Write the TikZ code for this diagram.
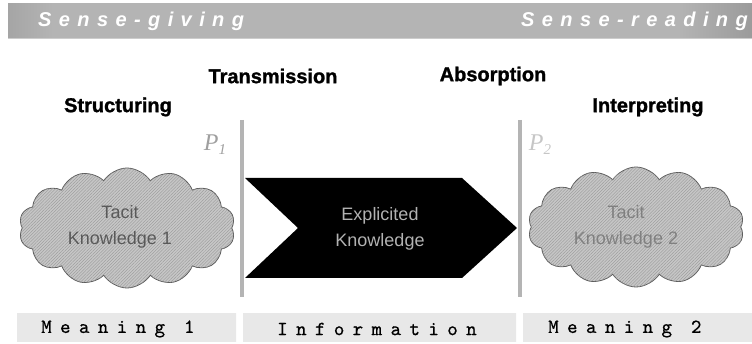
\documentclass[tikz,border=0pt]{standalone}
\usepackage{fontspec}
\setmainfont{Liberation Sans}
\newfontfamily\serifP{Liberation Serif}
\newfontfamily\barfam{Liberation Sans}[LetterSpace=37, BoldFeatures={FakeBold=1}]
\newfontfamily\headfam{Liberation Sans}[BoldFeatures={FakeBold=1.3}]
\newfontfamily\monofam{lmmono10-regular}[Extension=.otf, LetterSpace=42, FakeBold=0.6]
\usetikzlibrary{shapes.symbols,patterns.meta}
\definecolor{barmid}{HTML}{B4B4B4}
\definecolor{bardark}{HTML}{5A5A5A}
\definecolor{boxlight}{HTML}{E8E8E8}
\definecolor{boxdark}{HTML}{C4C4C4}
\definecolor{pole}{HTML}{B4B4B4}
\definecolor{cloudfill}{HTML}{C6C6C6}
\definecolor{hatch}{HTML}{969696}
\definecolor{cloudline}{HTML}{5E5E5E}
\pgfdeclarehorizontalshading{barshade}{100bp}{color(0bp)=(black); color(10bp)=(bardark); color(28bp)=(barmid); color(70bp)=(barmid); color(88bp)=(bardark); color(100bp)=(black)}
\tikzset{
  bartext/.style={text=white, font=\barfam\bfseries\itshape\fontsize{20}{20}\selectfont, inner sep=0pt},
  head/.style={text=black, font=\headfam\bfseries\fontsize{20}{20}\selectfont, inner sep=0pt},
  pole/.style={draw=pole, line width=4pt},
  tacit/.style={cloud, cloud puffs=14, cloud puff arc=115, aspect=1.8, draw=cloudline, line width=0.8pt,
    fill=cloudfill, pattern color=hatch,
    postaction={pattern={Lines[angle=45,distance=2.2pt,line width=0.35pt]}},
    minimum width=216pt, minimum height=120pt, inner sep=0pt},
  cloudtxt/.style={align=center, font=\fontsize{18}{26}\selectfont},
  meaning/.style={left color=boxlight, middle color=boxdark, right color=boxlight, draw=none},
  monotxt/.style={font=\monofam\fontsize{20}{20}\selectfont, text=black, inner sep=0pt},
  plab/.style={font=\serifP\itshape\fontsize{24}{24}\selectfont, inner sep=0pt},
}

\begin{document}
\begin{tikzpicture}[x=1pt,y=-1pt]
  \useasboundingbox (0,0) rectangle (752,344);

  % top bar
  \shade[shading=barshade] (8,4) rectangle (752,38);
  \draw[gray!40, line width=1pt] (8,38.5) -- (752,38.5);
  \node[bartext, anchor=west] (give) at (38,21) {Sense-giving};
  \node[bartext, anchor=west] (read) at (521,21) {Sense-reading};

  % headings
  \node[head] (struct) at (118,107) {Structuring};
  \node[head] (trans) at (273,76) {Transmission};
  \node[head] (absorb) at (493,76) {Absorption};
  \node[head] (interp) at (648,107) {Interpreting};

  % poles
  \coordinate (p1top) at (241.5,120);
  \coordinate (p1bot) at (241.5,297);
  \coordinate (p2top) at (519.5,120);
  \coordinate (p2bot) at (519.5,297);
  \draw[pole] (p1top) -- (p1bot);
  \draw[pole] (p2top) -- (p2bot);
  \node[plab, text=gray!75] (P1) at (215,145) {P\raisebox{-0.35ex}{\fontsize{15}{15}\selectfont 1}};
  \node[plab, text=gray!45] (P2) at (540,145) {P\raisebox{-0.35ex}{\fontsize{15}{15}\selectfont 2}};

  % clouds
  \node[tacit] (tk1) at (127,228) {};
  \node[cloudtxt, text=black!65] (tk1txt) at (120,227) {Tacit\\Knowledge 1};
  \node[tacit] (tk2) at (636,227) {};
  \node[cloudtxt, text=black!50] (tk2txt) at (626,227) {Tacit\\Knowledge 2};

  % explicited knowledge chevron
  \fill[black] (245,178) -- (462,178) -- (517,228) -- (462,278) -- (245,278) -- (298,228) -- cycle;
  \node[cloudtxt, text=black!30] (expl) at (380,229) {Explicited\\Knowledge};

  % bottom boxes
  \fill[meaning] (17,314) rectangle (236,342);
  \fill[meaning] (243,314) rectangle (516,342);
  \fill[meaning] (523,314) rectangle (752,342);
  \node[monotxt, anchor=west] (m1) at (41,329) {Meaning 1};
  \node[monotxt, anchor=west] (info) at (277,329) {Information};
  \node[monotxt, anchor=west] (m2) at (548,329) {Meaning 2};
\end{tikzpicture}
\end{document}
